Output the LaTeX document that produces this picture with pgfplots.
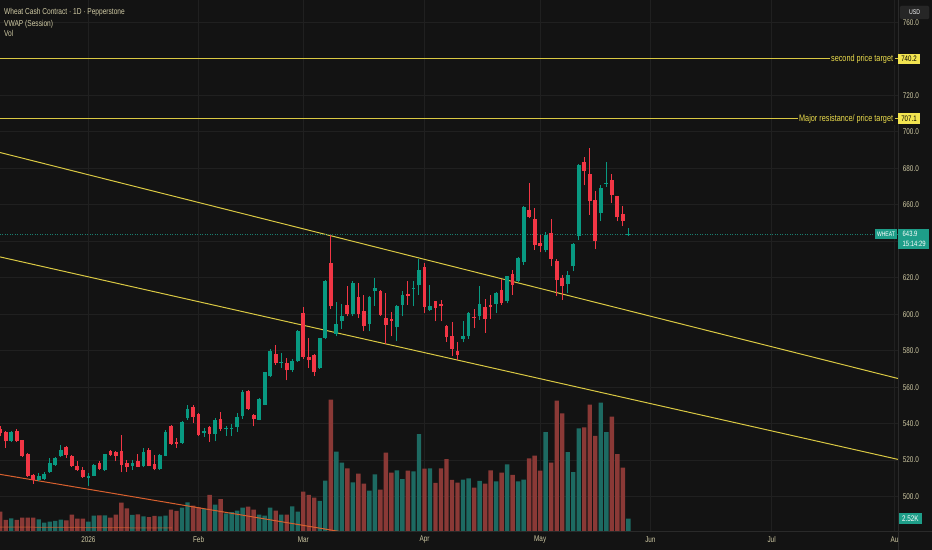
\documentclass[border=0pt]{standalone}
\usepackage{fontspec}
\setmainfont{Liberation Sans}
\newfontfamily\cond[FakeStretch=0.77]{Liberation Sans}
\usepackage{pgfplots}
\usepackage{pgfplotstable}
\pgfplotsset{compat=1.18}

\definecolor{bg}{HTML}{131313}
\definecolor{gridc}{HTML}{202020}
\definecolor{sepc}{HTML}{2A2A2A}
\definecolor{upc}{HTML}{089981}
\definecolor{dnc}{HTML}{F23645}
\definecolor{upv}{HTML}{1D6A62}
\definecolor{dnv}{HTML}{8A3936}
\definecolor{txt}{HTML}{D0CAA4}
\definecolor{yel}{HTML}{D9C843}
\definecolor{ylab}{HTML}{F2E450}
\definecolor{ytxt}{HTML}{EADB4C}
\definecolor{org}{HTML}{D8602E}
\definecolor{tealbox}{HTML}{1E9E89}
\definecolor{tealdot}{HTML}{1A7F70}

% i = bar index (trading days), o h l c = price, v = volume in K
\pgfplotstableread{
i o h l c v
2 530.7 536.0 530.0 535.4 2.58
7 509.3 513.0 508.4 511.5 2.39
8 509.9 513.3 509.3 512.6 1.75
9 513.3 521.2 513.0 518.4 1.94
10 517.5 521.7 517.0 521.0 2.08
11 522.1 528.1 521.7 525.8 2.33
16 510.2 513.0 506.0 511.5 1.94
17 511.5 518.1 511.1 517.5 3.10
19 514.4 523.5 514.0 523.2 3.16
24 517.0 520.3 514.8 518.6 3.24
26 516.6 526.7 516.0 524.3 2.97
29 515.1 523.3 514.8 523.0 2.97
30 522.5 536.7 522.1 535.4 3.10
33 529.4 541.5 529.0 540.9 4.66
34 542.9 550.4 542.2 548.0 5.68
37 534.7 537.6 532.7 535.8 4.40
39 534.3 543.1 530.3 542.2 5.24
41 537.0 538.5 533.4 537.4 3.55
42 537.1 539.8 533.4 537.6 3.82
43 538.4 545.8 535.3 543.8 4.07
44 544.0 558.3 542.6 557.5 4.66
47 542.2 554.0 541.8 553.5 3.30
48 550.4 568.5 550.0 568.1 3.10
49 565.9 580.9 565.4 580.0 4.66
51 573.3 578.7 570.5 574.0 3.30
53 569.2 575.4 568.3 574.5 4.91
54 574.2 591.5 573.8 591.0 3.88
58 570.5 587.2 570.0 586.8 5.96
59 586.9 618.5 586.5 618.0 9.89
61 589.3 606.5 587.9 594.8 15.52
62 596.1 605.8 591.9 598.8 13.39
64 600.3 618.0 599.0 617.1 9.56
67 594.8 610.0 590.6 609.2 7.95
68 612.5 619.8 604.7 614.3 11.12
72 593.0 605.0 585.1 604.3 11.89
73 605.2 612.9 598.8 610.3 10.22
75 613.8 618.0 604.3 614.1 11.70
76 615.8 630.4 610.7 624.4 18.95
78 602.5 615.8 601.6 604.7 12.28
84 586.4 596.1 584.6 588.2 10.09
85 587.9 601.0 586.5 600.6 10.34
87 598.8 615.6 597.0 605.6 9.84
90 605.6 612.0 600.6 611.6 9.76
92 607.0 621.0 606.0 620.7 13.06
94 618.0 631.5 617.5 630.8 9.76
95 628.6 659.5 627.0 658.7 10.09
99 635.4 644.8 633.9 643.4 19.34
103 616.7 623.5 611.6 621.3 15.46
104 626.2 639.0 623.5 638.4 11.58
105 642.6 682.5 640.5 681.6 20.04
109 655.4 671.0 650.9 669.1 25.03
110 671.6 683.7 670.0 672.0 19.34
114 643.6 647.2 643.0 643.9 2.52
}\upT

\pgfplotstableread{
i o h l c v
0 537.0 538.5 533.0 535.0 3.88
1 535.2 536.0 526.7 530.3 2.27
3 536.2 537.0 530.0 530.7 2.27
4 530.9 531.2 521.7 522.1 2.72
5 523.6 524.0 511.0 511.1 2.72
6 512.0 512.5 507.0 509.0 2.72
12 527.4 527.5 521.2 523.0 2.19
13 522.5 523.0 516.5 517.0 3.30
14 517.0 519.7 514.0 514.4 2.52
15 514.8 516.3 510.2 510.8 2.52
18 518.4 519.3 514.8 515.1 3.16
20 524.8 525.8 522.1 523.0 2.72
21 524.3 524.8 519.3 522.5 3.30
22 524.8 534.0 513.3 517.2 5.63
23 518.6 520.3 513.7 516.1 4.52
25 519.4 523.6 516.2 516.3 3.36
27 525.4 526.7 516.6 517.0 2.85
28 517.9 523.0 514.4 515.1 3.05
31 538.9 539.5 528.5 529.0 4.27
32 529.8 532.2 526.7 528.9 4.02
35 549.1 550.4 540.4 543.7 5.04
36 545.3 546.0 533.1 534.0 4.71
38 538.2 538.5 529.8 534.2 7.12
40 542.6 546.2 535.8 537.1 6.34
45 557.9 558.5 547.5 548.0 4.85
46 544.9 545.3 538.5 542.4 4.27
50 578.2 583.3 572.3 573.2 4.07
52 573.2 576.0 563.7 569.2 3.30
55 600.6 603.7 575.5 576.5 7.76
56 576.3 586.9 570.5 574.7 7.12
57 577.4 578.0 565.9 568.1 6.60
60 628.0 643.6 603.0 604.3 25.61
63 605.2 615.6 598.8 600.3 12.28
65 609.2 617.1 597.9 600.3 11.25
66 601.6 610.7 590.6 593.3 9.31
69 612.9 613.5 599.0 599.7 8.15
70 597.9 611.6 583.6 594.2 15.33
71 597.3 601.2 587.9 596.5 11.45
74 611.2 618.4 605.2 610.1 11.83
77 625.8 627.8 600.6 603.9 12.22
79 607.0 607.5 596.1 603.4 9.45
80 605.8 607.6 596.1 604.3 12.28
81 593.3 594.0 584.7 587.5 14.10
82 588.2 595.5 576.9 580.9 10.03
83 580.0 584.7 575.1 577.8 9.51
86 598.5 602.8 592.4 598.0 8.54
88 603.9 608.3 589.7 597.5 9.31
89 604.8 610.7 597.5 603.9 11.89
91 613.4 619.3 605.0 606.1 11.45
93 622.0 624.4 610.7 616.2 11.00
96 657.3 671.9 652.5 653.1 14.22
97 652.2 658.2 635.4 638.1 14.74
98 639.0 643.2 633.9 637.5 11.83
100 644.5 652.2 626.2 630.2 13.39
101 629.0 630.2 609.8 618.9 25.41
102 619.8 621.6 608.0 615.3 22.95
106 683.2 686.1 670.6 678.6 20.23
107 676.6 691.0 654.5 661.8 24.64
108 662.7 667.3 635.7 640.3 18.57
111 673.7 677.0 660.9 665.5 22.31
112 664.6 665.0 650.9 653.1 15.07
113 655.1 659.1 648.1 651.2 12.42
}\dnT

\pgfplotsset{
  candle/.style n args={2}{draw=none, mark=none, forget plot,
    error bars/.cd, y dir=plus, y explicit, error mark=none,
    error bar style={draw=#1, solid, line width=#2}},
}

\begin{document}
\begin{tikzpicture}
\path[use as bounding box, fill=bg] (0,0) rectangle (932bp,550bp);
\begin{axis}[
  at={(0bp,18.3bp)}, anchor=south west,
  scale only axis,
  x=5.51bp, y=1.824bp,
  xmin=-0.036, xmax=162.94,
  ymin=480.76, ymax=772.26,
  axis line style={draw=none},
  major tick length=0pt,
  xtick={16,36,55,77,98,118,140,162.3},
  xticklabels={2026,Feb,Mar,Apr,May,Jun,Jul,Au},
  ytick={500,520,540,560,580,600,620,660,680,700,720,760},
  extra y ticks={640,740},
  extra y tick labels={},
  extra tick style={grid=major, major tick length=0pt},
  yticklabel pos=right,
  grid=major,
  major grid style={gridc, line width=0.8bp},
  ticklabel style={font=\cond\fontsize{8.3}{9}\selectfont, text=txt, inner sep=0pt},
  yticklabel style={anchor=west, xshift=4.7bp},
  xticklabel style={anchor=center, yshift=-8.3bp},
  /pgf/number format/assume math mode=true,
  yticklabel={\pgfmathprintnumber[fixed,fixed zerofill,precision=1]{\tick}},
  clip=true,
]
% volume (K), drawn in the lower part of the price pane
\addplot[ybar, bar width=4.4bp, bar shift=0pt, fill=upv, draw=none, forget plot]
  table[x=i, y expr=480.76+2.826*\thisrow{v}] {\upT};
\addplot[ybar, bar width=4.4bp, bar shift=0pt, fill=dnv, draw=none, forget plot]
  table[x=i, y expr=480.76+2.826*\thisrow{v}] {\dnT};

% trend lines
\addplot[org, line width=1bp, forget plot] coordinates {(-0.036,512.2) (70,476.6)};
\addplot[org, opacity=0.55, line width=1bp, forget plot] coordinates {(-0.036,483.3) (31.2,482.8)};
\addplot[yel, line width=1bp, forget plot] coordinates {(-0.036,688.65) (162.94,564.75)};
\addplot[yel, line width=1bp, forget plot] coordinates {(-0.036,631.41) (162.94,520.4)};
\addplot[yel, line width=1bp, forget plot] coordinates {(-1,740.2) (164,740.2)};
\addplot[yel, line width=1bp, forget plot] coordinates {(-1,707.1) (164,707.1)};
\addplot[tealdot, line width=0.8bp, dash pattern=on 1bp off 1.5bp, forget plot] coordinates {(-1,643.9) (164,643.9)};

% wicks
\addplot[candle={upc}{1bp}]
  table[x=i, y=l, y error expr=\thisrow{h}-\thisrow{l}] {\upT};
\addplot[candle={dnc}{1bp}]
  table[x=i, y=l, y error expr=\thisrow{h}-\thisrow{l}] {\dnT};
% bodies
\addplot[candle={upc}{3.7bp}]
  table[x=i, y=o, y error expr={max(\thisrow{c}-\thisrow{o},0.6)}] {\upT};
\addplot[candle={dnc}{3.7bp}]
  table[x=i, y=c, y error expr={max(\thisrow{o}-\thisrow{c},0.6)}] {\dnT};
\end{axis}

% separators of the price and time scales
\draw[sepc, line width=0.8bp] (898bp,0) -- (898bp,550bp);
\draw[sepc, line width=0.8bp] (0,18.3bp) -- (932bp,18.3bp);

% legend text top left
\begin{scope}[every node/.style={inner sep=0pt, anchor=base west, text=txt, font=\cond\fontsize{8.6}{10}\selectfont}]
\node at (4bp,535.6bp) {Wheat Cash Contract · 1D · Pepperstone};
\node at (4bp,523.8bp) {VWAP (Session)};
\node at (4bp,513.4bp) {Vol};
\end{scope}

% line labels
\node[anchor=base east, fill=bg, inner xsep=1.5bp, inner ysep=1bp, text=ytxt, font=\cond\fontsize{9.5}{11}\selectfont] at (894.8bp,488.0bp) {second price target};
\node[anchor=base east, fill=bg, inner xsep=1.5bp, inner ysep=1bp, text=ytxt, font=\cond\fontsize{9.5}{11}\selectfont] at (894.8bp,428.4bp) {Major resistance/ price target};

% price scale boxes
\fill[ylab] (898bp,486bp) rectangle (920bp,496bp);
\node[text=black, inner sep=0pt, font=\cond\fontsize{8}{9}\selectfont] at (909bp,491bp) {740.2};
\fill[ylab] (898bp,426bp) rectangle (920bp,436.7bp);
\node[text=black, inner sep=0pt, font=\cond\fontsize{8}{9}\selectfont] at (909bp,431.3bp) {707.1};

\fill[tealbox] (875bp,310.7bp) rectangle (897bp,321bp);
\node[text=white, inner sep=0pt, font=\cond\fontsize{6.6}{8}\selectfont] at (886bp,315.9bp) {WHEAT};
\fill[tealbox] (898bp,300.7bp) rectangle (929bp,321.3bp);
\node[text=white, inner sep=0pt, anchor=west, font=\cond\fontsize{7.7}{9}\selectfont] at (902.5bp,316bp) {643.9};
\node[text=white, inner sep=0pt, anchor=west, font=\cond\fontsize{7.7}{9}\selectfont] at (902.5bp,306bp) {15:14:29};

\fill[tealbox] (898.7bp,25.7bp) rectangle (922bp,36.7bp);
\node[text=white, inner sep=0pt, font=\cond\fontsize{8.2}{9}\selectfont] at (910.3bp,31.2bp) {2.52K};

\filldraw[fill=black!85!white, draw=sepc, rounded corners=1.5bp] (900bp,531bp) rectangle (929bp,544bp);
\node[text=white, inner sep=0pt, font=\cond\fontsize{6.8}{8}\selectfont] at (914.5bp,537.5bp) {USD};
\end{tikzpicture}
\end{document}
